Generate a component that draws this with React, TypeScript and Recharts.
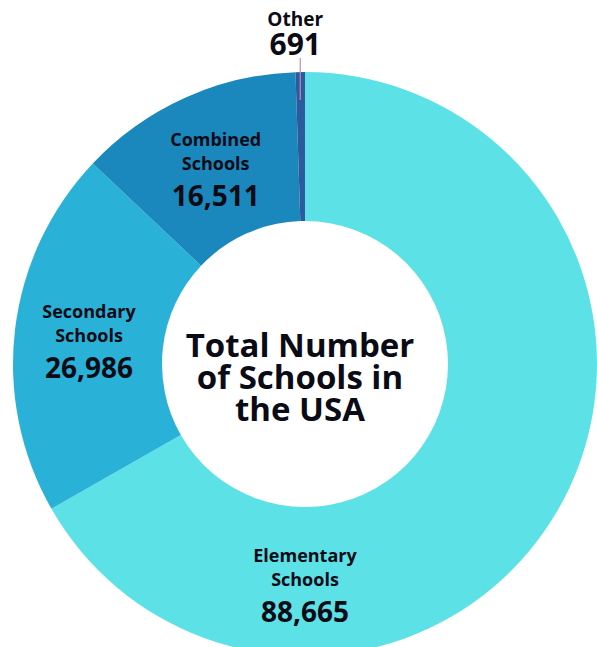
import { PieChart, Pie, Cell } from "recharts";

const categories = ["Elementary Schools", "Secondary Schools", "Combined Schools", "Other"];
const values = [88665, 26986, 16511, 691];
const colors = ["#5ce1e6", "#2ab1d7", "#1b88bd", "#2c5a9f"];
const centerLines = ["Total Number", "of Schools in", "the USA"];

const data = categories.map((name, i) => ({ name, value: values[i] }));

const RADIAN = Math.PI / 180;
const FONT = "'Open Sans', Lato, sans-serif";
const INK = "#0b0b16";

function SliceLabel(props: any) {
  const { cx, cy, midAngle, innerRadius, outerRadius, index, name, value } = props;
  const text = Number(value).toLocaleString("en-US");
  if (index === 3) {
    // small slice: label above the ring with a thin leader
    const x = cx + outerRadius * Math.cos(-midAngle * RADIAN);
    return (
      <g>
        <line x1={x} y1={58} x2={x} y2={cy - outerRadius + 28} stroke="#c98aa0" strokeWidth={1.2} />
        <text x={x - 5} y={26} textAnchor="middle" fill={INK} fontFamily={FONT} fontWeight={700} fontSize={19}>
          {name}
        </text>
        <text x={x - 5} y={55} textAnchor="middle" fill={INK} fontFamily={FONT} fontWeight={700} fontSize={30}>
          {text}
        </text>
      </g>
    );
  }
  // the big slice keeps its label straight below the centre
  const angle = index === 0 ? -90 : midAngle;
  const r = (innerRadius + outerRadius) / 2;
  const x = cx + r * Math.cos(-angle * RADIAN);
  const y = cy + r * Math.sin(-angle * RADIAN);
  const [line1, line2] = String(name).split(" ");
  return (
    <g fill={INK} fontFamily={FONT} fontWeight={700} textAnchor="middle">
      <text x={x} y={y - 20} fontSize={18}>{line1}</text>
      <text x={x} y={y + 4} fontSize={18}>{line2}</text>
      <text x={x} y={y + 40} fontSize={28}>{text}</text>
    </g>
  );
}

export default function App() {
  return (
    <div style={{ position: "absolute", left: 0, top: 0, background: "#fff" }}>
      <PieChart width={597} height={647} margin={{ top: 0, right: 0, bottom: 0, left: 0 }}>
        <Pie
          data={data}
          dataKey="value"
          nameKey="name"
          cx={305}
          cy={364}
          innerRadius={143}
          outerRadius={292}
          startAngle={90}
          endAngle={-270}
          stroke="none"
          label={SliceLabel}
          labelLine={false}
          isAnimationActive={false}
        >
          {data.map((d, i) => (
            <Cell key={d.name} fill={colors[i]} />
          ))}
        </Pie>
        <text textAnchor="middle" fill={INK} fontFamily={FONT} fontWeight={700} fontSize={33}>
          {centerLines.map((line, i) => (
            <tspan key={line} x={300} y={357 + i * 32}>
              {line}
            </tspan>
          ))}
        </text>
      </PieChart>
    </div>
  );
}
